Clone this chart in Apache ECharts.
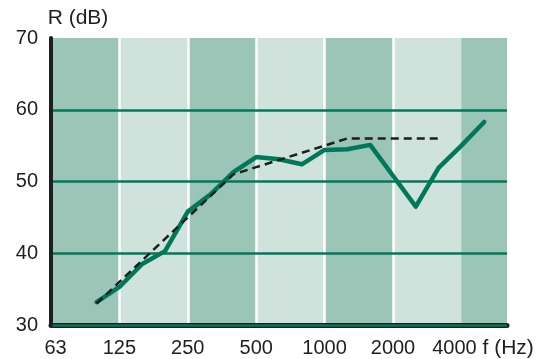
<!DOCTYPE html>
<html>
<head>
<meta charset="utf-8">
<script src="https://cdn.jsdelivr.net/npm/echarts@6/dist/echarts.min.js"></script>
<style>html,body{margin:0;padding:0;background:#fff}#c{width:547px;height:359px}</style>
</head>
<body>
<div id="c"></div>
<script>
// third-octave band centre frequencies (Hz), 63 ... 6300
const frequencies = ['63','80','100','125','160','200','250','315','400','500','630','800','1000','1250','1600','2000','2500','3150','4000','5000','6300'];
// octave tick labels shown on the x axis
const octaveLabels = ['63','125','250','500','1000','2000','4000'];
// y tick values
const yTicks = [30, 40, 50, 60, 70];
// measured sound reduction index R (dB)
const measured = [null, null, 33.2, 35.3, 38.5, 40.3, 45.8, 48.2, 51.3, 53.4, 53.1, 52.4, 54.4, 54.5, 55.1, 50.8, 46.5, 51.9, 55.0, 58.3, null];
// shifted reference curve (dB)
const reference = [null, null, 33, 36, 39, 42, 45, 48, 51, 52, 53, 54, 55, 56, 56, 56, 56, 56, null, null, null];

const FONT = "'Liberation Sans', Arial, sans-serif";
const TXT = '#1e1e1e';
const FS = 20;
const chart = echarts.init(document.getElementById('c'), null, {renderer: 'canvas'});
chart.setOption({
  animation: false,
  grid: {left: 51, right: 40, top: 38, bottom: 33, show: true, backgroundColor: '#9bc5b7', borderWidth: 0},
  xAxis: {
    type: 'category',
    data: frequencies,
    boundaryGap: false,
    name: 'f (Hz)',
    nameLocation: 'end',
    nameGap: -28,
    nameTextStyle: {fontFamily: FONT, fontSize: 21, color: TXT, verticalAlign: 'top', align: 'left', padding: [13, 0, 0, 0]},
    axisLine: {show: true, lineStyle: {color: '#1e1e1e', width: 5}},
    axisTick: {show: false},
    axisLabel: {
      interval: 2,
      margin: 13,
      fontFamily: FONT, fontSize: FS, color: TXT,
      formatter: function (v) {
        if (octaveLabels.indexOf(v) < 0) return '';
        if (v === '63') return '{a|' + v + '}';
        if (v === '4000') return '{b|' + v + '}';
        return v;
      },
      rich: {
        a: {fontFamily: FONT, fontSize: FS, color: TXT, padding: [0, 0, 0, 9]},
        b: {fontFamily: FONT, fontSize: FS, color: TXT, padding: [0, 14, 0, 0]}
      }
    },
    splitArea: {show: true, interval: 2, areaStyle: {color: ['rgba(0,0,0,0)', '#cfe2db']}},
    splitLine: {show: true, interval: 2, showMaxLine: false, lineStyle: {color: '#ffffff', width: 2.5}}
  },
  yAxis: {
    type: 'value',
    min: yTicks[0], max: yTicks[yTicks.length - 1], interval: 10,
    z: 1,
    name: 'R (dB)',
    nameLocation: 'end',
    nameGap: 9,
    nameTextStyle: {fontFamily: FONT, fontSize: 21, color: TXT, align: 'center', padding: [0, 0, 0, 54]},
    axisLine: {show: true, lineStyle: {color: '#1e1e1e', width: 4}},
    axisTick: {show: false},
    axisLabel: {margin: 13, fontFamily: FONT, fontSize: FS, color: TXT},
    splitLine: {show: true, showMaxLine: false, lineStyle: {color: '#00785a', width: 2.5}}
  },
  series: [
    {
      type: 'line', data: measured, showSymbol: false, symbol: 'none', z: 3,
      lineStyle: {color: '#00785a', width: 4.5, join: 'round', cap: 'round'}
    },
    {
      type: 'line', data: reference, showSymbol: false, symbol: 'none', z: 4,
      lineStyle: {color: '#1e1e1e', width: 2.5, type: [8, 5]}
    }
  ]
});
</script>
</body>
</html>
